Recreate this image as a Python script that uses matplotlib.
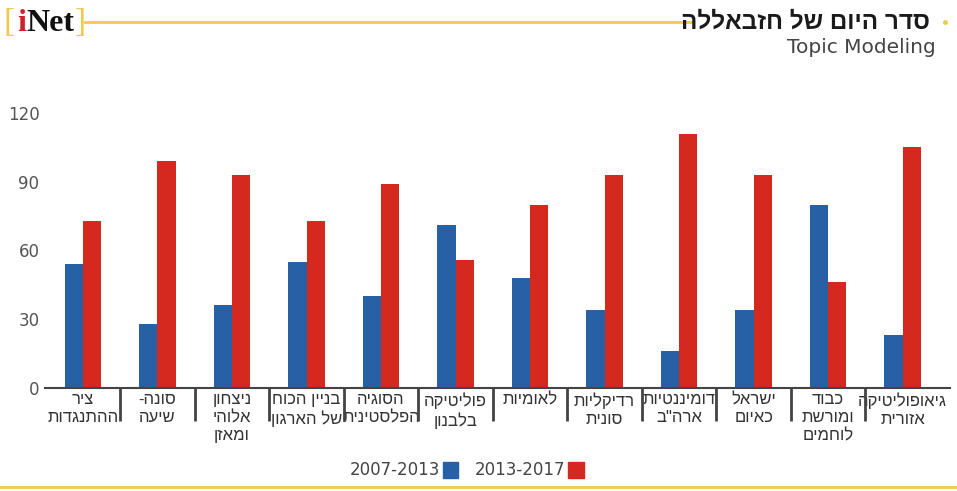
import numpy as np
import matplotlib.pyplot as plt
from matplotlib.lines import Line2D
from matplotlib.patches import Rectangle

plt.rcParams['font.family'] = ['DejaVu Sans']

# categories, left to right (logical Hebrew order, lines split with \n)
categories = [
    "ציר\nההתנגדות",
    "סונה-\nשיעה",
    "ניצחון\nאלוהי\nומאזן",
    "בניין הכוח\nשל הארגון",
    "הסוגיה\nהפלסטינית",
    "פוליטיקה\nבלבנון",
    "לאומיות",
    "רדיקליות\nסונית",
    "דומיננטיות\nארה\"ב",
    "ישראל\nכאיום",
    "כבוד\nומורשת\nלוחמים",
    "גיאופוליטיקה\nאזורית",
]
series_names = ["2007-2013", "2013-2017"]
values_2007_2013 = [54, 28, 36, 55, 40, 71, 48, 34, 16, 34, 80, 23]
values_2013_2017 = [73, 99, 93, 73, 89, 56, 80, 93, 111, 93, 46, 105]
yticks = [0, 30, 60, 90, 120]

blue = '#2860a6'
red = '#d5281f'
gray = '#555555'
yellow = '#f2c94c'
heb = ['Liberation Sans', 'DejaVu Sans']


def rtl(s):
    # matplotlib has no bidi, so flip each line for display
    return "\n".join(line[::-1] for line in s.split("\n"))


fig = plt.figure(figsize=(9.57, 4.91), dpi=100)
ax = fig.add_axes([0.047, 0.21, 0.946, 0.56])

x = np.arange(len(categories))
w = 0.245
ax.bar(x - w / 2, values_2007_2013, w, color=blue)
ax.bar(x + w / 2, values_2013_2017, w, color=red)

ax.set_xlim(-0.51, len(categories) - 0.36)
ax.set_ylim(0, 120)
ax.set_yticks(yticks)
ax.tick_params(axis='y', length=0, labelsize=12, labelcolor=gray, pad=4)
for s in ['top', 'right', 'left']:
    ax.spines[s].set_visible(False)
ax.spines['bottom'].set_color('#444444')
ax.spines['bottom'].set_linewidth(1.5)

ax.set_xticks(x)
ax.set_xticklabels([rtl(c) for c in categories], fontsize=12, color='#333333',
                   linespacing=1.25, va='top', family=heb)
ax.tick_params(axis='x', length=0, pad=3)
ax.set_xticks(x[:-1] + 0.5, minor=True)
ax.tick_params(axis='x', which='minor', length=24, width=2, color='#444444',
               direction='out')

# header
fig.add_artist(Line2D([0.089, 0.722], [0.955, 0.955], color=yellow, lw=2))
fig.text(0.972, 0.955, rtl("סדר היום של חזבאללה"), ha='right', va='center',
         fontsize=17.5, fontweight='bold', color='#1a1a1a', family=heb)
fig.text(0.978, 0.903, "Topic Modeling", ha='right', va='center',
         fontsize=14.5, color='#444444')
fig.add_artist(Line2D([0.987], [0.955], marker='o', ms=2.5, color=yellow))
fig.text(0.004, 0.953, "[", ha='left', va='center', fontsize=24, color=yellow,
         family='Liberation Serif')
fig.text(0.078, 0.953, "]", ha='left', va='center', fontsize=24, color=yellow,
         family='Liberation Serif')
fig.text(0.018, 0.953, "i", ha='left', va='center', fontsize=23,
         fontweight='bold', family='Liberation Serif', color='#d0202a')
fig.text(0.028, 0.953, "Net", ha='left', va='center', fontsize=23,
         fontweight='bold', family='Liberation Serif', color='#111111')

# legend
fig.text(0.46, 0.042, series_names[0], ha='right', va='center', fontsize=12,
         color='#444444')
fig.add_artist(Rectangle((0.463, 0.027), 0.016, 0.032, color=blue,
                         transform=fig.transFigure))
fig.text(0.591, 0.042, series_names[1], ha='right', va='center', fontsize=12,
         color='#444444')
fig.add_artist(Rectangle((0.594, 0.027), 0.016, 0.032, color=red,
                         transform=fig.transFigure))

# bottom rule
fig.add_artist(Line2D([0.0, 1.0], [0.008, 0.008], color=yellow, lw=2))

fig.savefig('out.png', dpi=100, facecolor='white')
